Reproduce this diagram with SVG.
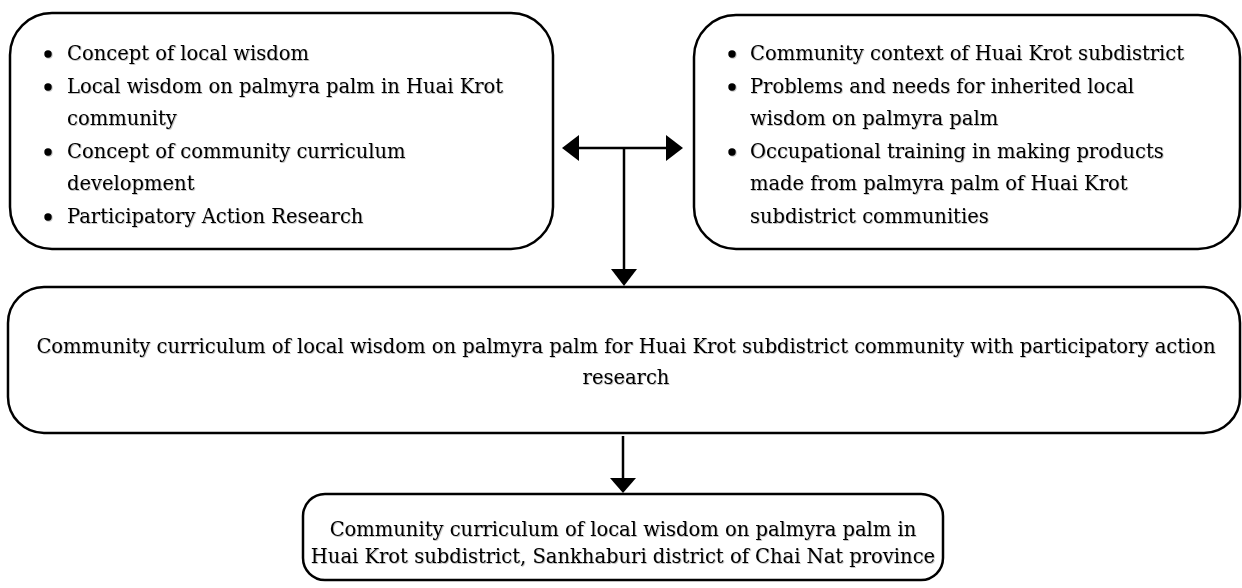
<svg xmlns="http://www.w3.org/2000/svg" width="1242" height="588" viewBox="0 0 1242 588">
<defs>
<filter id="sh" x="-5%" y="-20%" width="110%" height="140%">
<feDropShadow dx="0.8" dy="0.8" stdDeviation="0.6" flood-color="#000" flood-opacity="0.3"/>
</filter>
</defs>
<style>
.box{fill:#fff;stroke:#000;stroke-width:2.5}
.t{font-family:"DejaVu Serif","Liberation Serif",serif;font-size:19.5px;fill:#000}
.c{text-anchor:middle}
.ln{stroke:#000;stroke-width:2.5;fill:none}
.hd{fill:#000}
.txt{filter:url(#sh)}
</style>
<rect width="1242" height="588" fill="#fff"/>
<g id="node-left">
<rect class="box" x="10" y="13" width="543" height="236" rx="42" ry="42"/>
<g class="txt">
<circle cx="48" cy="54" r="3.7"/>
<text class="t" x="67" y="60">Concept of local wisdom</text>
<circle cx="48" cy="87" r="3.7"/>
<text class="t" x="67" y="93">Local wisdom on palmyra palm in Huai Krot</text>
<text class="t" x="67" y="125">community</text>
<circle cx="48" cy="152" r="3.7"/>
<text class="t" x="67" y="158">Concept of community curriculum</text>
<text class="t" x="67" y="190">development</text>
<circle cx="48" cy="217" r="3.7"/>
<text class="t" x="67" y="223">Participatory Action Research</text>
</g>
</g>
<g id="node-right">
<rect class="box" x="694" y="15" width="546" height="234" rx="42" ry="42"/>
<g class="txt">
<circle cx="732" cy="54" r="3.7"/>
<text class="t" x="750" y="60">Community context of Huai Krot subdistrict</text>
<circle cx="732" cy="87" r="3.7"/>
<text class="t" x="750" y="93">Problems and needs for inherited local</text>
<text class="t" x="750" y="125">wisdom on palmyra palm</text>
<circle cx="732" cy="152" r="3.7"/>
<text class="t" x="750" y="158">Occupational training in making products</text>
<text class="t" x="750" y="190">made from palmyra palm of Huai Krot</text>
<text class="t" x="750" y="223">subdistrict communities</text>
</g>
</g>
<g id="node-middle">
<rect class="box" x="8" y="287" width="1232" height="146" rx="36" ry="36"/>
<g class="txt">
<text class="t c" x="626" y="353">Community curriculum of local wisdom on palmyra palm for Huai Krot subdistrict community with participatory action</text>
<text class="t c" x="626" y="384">research</text>
</g>
</g>
<g id="node-bottom">
<rect class="box" x="303" y="494" width="640" height="86" rx="22" ry="22"/>
<g class="txt">
<text class="t c" x="623" y="536">Community curriculum of local wisdom on palmyra palm in</text>
<text class="t c" x="623" y="563">Huai Krot subdistrict, Sankhaburi district of Chai Nat province</text>
</g>
</g>
<g id="connectors">
<line class="ln" x1="577" y1="148" x2="668" y2="148"/>
<polygon class="hd" points="562,148 579,135 579,161"/>
<polygon class="hd" points="683,148 666,135 666,161"/>
<line class="ln" x1="624" y1="148" x2="624" y2="270"/>
<polygon class="hd" points="611,269 637,269 624,286"/>
<line class="ln" x1="623" y1="436" x2="623" y2="479"/>
<polygon class="hd" points="610,478 636,478 623,493"/>
</g>
</svg>
